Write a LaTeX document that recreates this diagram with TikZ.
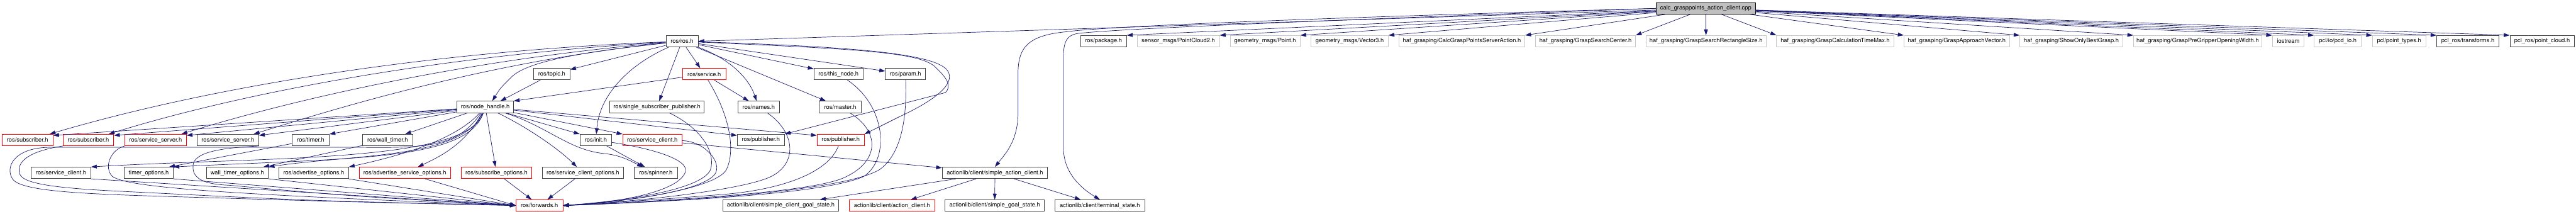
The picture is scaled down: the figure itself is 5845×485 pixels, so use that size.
\documentclass[tikz,border=0pt]{standalone}
\usepackage{fontspec}
\setmainfont{TeX Gyre Heros}
\usetikzlibrary{arrows.meta, calc}
\definecolor{edgeblue}{RGB}{25, 25, 112}
\definecolor{rootgray}{RGB}{191, 191, 191}
\definecolor{extgray}{RGB}{200, 200, 200}
\definecolor{truncred}{RGB}{255, 0, 0}
\definecolor{boxdark}{RGB}{64, 64, 64}
\tikzset{
    hdr/.style={draw=boxdark, fill=white, rectangle, line width=0.8pt, minimum height=19.5pt, inner xsep=5pt, inner ysep=0pt, font=\fontsize{10}{12}\selectfont},
    trunc/.style={hdr, draw=truncred},
    ext/.style={hdr, draw=extgray},
    srcfile/.style={hdr, draw=black, fill=rootgray},
    bw/.style={minimum width=#1*0.75pt},
    dep/.style={draw=edgeblue, line width=0.75pt, -{Triangle[length=10pt, width=6.5pt]}},
}

\begin{document}
\begin{tikzpicture}[x=0.75pt, y=-0.75pt]
\useasboundingbox (0,0) rectangle (5845,485);

% === Source file ===
\node[srcfile, bw=225] (root) at (3870.5,19) {calc\_grasppoints\_action\_client.cpp};

% === Direct includes ===
\node[hdr, bw=73] (ros) at (1547.5,93.5) {ros/ros.h};
\node[hdr, bw=104] (package) at (2504,93.5) {ros/package.h};
\node[ext, bw=187] (pcloud2) at (2673.5,93.5) {sensor\_msgs/PointCloud2.h};
\node[ext, bw=159] (point) at (2870.5,93.5) {geometry\_msgs/Point.h};
\node[ext, bw=175] (vector3) at (3062.5,93.5) {geometry\_msgs/Vector3.h};
\node[ext, bw=286] (calcsrv) at (3317,93.5) {haf\_grasping/CalcGraspPointsServerAction.h};
\node[ext, bw=227] (searchctr) at (3597.5,93.5) {haf\_grasping/GraspSearchCenter.h};
\node[ext, bw=272] (rectsize) at (3871,93.5) {haf\_grasping/GraspSearchRectangleSize.h};
\node[ext, bw=266] (timemax) at (4164,93.5) {haf\_grasping/GraspCalculationTimeMax.h};
\node[ext, bw=240] (approach) at (4440,93.5) {haf\_grasping/GraspApproachVector.h};
\node[ext, bw=234] (showbest) at (4700,93.5) {haf\_grasping/ShowOnlyBestGrasp.h};
\node[ext, bw=291] (pregrip) at (4986.5,93.5) {haf\_grasping/GraspPreGripperOpeningWidth.h};
\node[ext, bw=72] (iostream) at (5192,93.5) {iostream};
\node[ext, bw=107] (pcdio) at (5304.5,93.5) {pcl/io/pcd\_io.h};
\node[ext, bw=121] (ptypes) at (5443.5,93.5) {pcl/point\_types.h};
\node[hdr, bw=141] (transforms) at (5599.5,93.5) {pcl\_ros/transforms.h};
\node[hdr, bw=146] (pclcloud) at (5768,93.5) {pcl\_ros/point\_cloud.h};

% === roscpp headers ===
\node[hdr, bw=82] (topic) at (1252,168) {ros/topic.h};
\node[trunc, bw=98] (service) at (1598,168) {ros/service.h};
\node[hdr, bw=111] (thisnode) at (1902.5,168) {ros/this\_node.h};
\node[hdr, bw=91] (param) at (2054.5,168) {ros/param.h};

\node[hdr, bw=128] (nh) at (1101,242.5) {ros/node\_handle.h};
\node[hdr, bw=215] (ssp) at (1490.5,242.5) {ros/single\_subscriber\_publisher.h};
\node[hdr, bw=95] (names) at (1721.5,242.5) {ros/names.h};
\node[hdr, bw=95] (master) at (1906.5,242.5) {ros/master.h};

\node[trunc, bw=115] (suba) at (62.5,317.5) {ros/subscriber.h};
\node[trunc, bw=115] (subb) at (200.5,317.5) {ros/subscriber.h};
\node[trunc, bw=140] (ssra) at (353,317.5) {ros/service\_server.h};
\node[hdr, bw=140] (ssrb) at (517,317.5) {ros/service\_server.h};
\node[hdr, bw=84] (timer) at (705,317.5) {ros/timer.h};
\node[hdr, bw=115] (wtimer) at (879.5,317.5) {ros/wall\_timer.h};
\node[hdr, bw=72] (init) at (1352,317.5) {ros/init.h};
\node[trunc, bw=134] (sclia) at (1480,317.5) {ros/service\_client.h};
\node[hdr, bw=107] (puba) at (1726.5,317.5) {ros/publisher.h};
\node[trunc, bw=107] (pubb) at (1907.5,317.5) {ros/publisher.h};

\node[hdr, bw=135] (sclib) at (138.5,392) {ros/service\_client.h};
\node[hdr, bw=111] (topts) at (337.5,392) {timer\_options.h};
\node[hdr, bw=141] (wtopts) at (538.5,392) {wall\_timer\_options.h};
\node[hdr, bw=158] (aopts) at (712,392) {ros/advertise\_options.h};
\node[trunc, bw=207] (asopts) at (918.5,392) {ros/advertise\_service\_options.h};
\node[trunc, bw=161] (subopts) at (1126.5,392) {ros/subscribe\_options.h};
\node[hdr, bw=185] (scopts) at (1322.5,392) {ros/service\_client\_options.h};
\node[hdr, bw=98] (spinner) at (1488,392) {ros/spinner.h};
\node[hdr, bw=239] (sac) at (2257.5,392) {actionlib/client/simple\_action\_client.h};

\node[trunc, bw=106] (fwd) at (1224,466) {ros/forwards.h};
\node[hdr, bw=263] (scgs) at (1771.5,466) {actionlib/client/simple\_client\_goal\_state.h};
\node[trunc, bw=194] (aclient) at (2024,466) {actionlib/client/action\_client.h};
\node[hdr, bw=226] (sgs) at (2257,466) {actionlib/client/simple\_goal\_state.h};
\node[hdr, bw=203] (tstate) at (2495.5,466) {actionlib/client/terminal\_state.h};

% === Includes of the source file ===
\draw[dep] (root) -- (ros.east);
\draw[dep] (root) -- (package.north east);
\draw[dep] (root) -- (pcloud2.north east);
\draw[dep] (root) -- (point.north east);
\draw[dep] (root) -- (vector3.north east);
\draw[dep] (root) -- (calcsrv.north east);
\draw[dep] (root) -- (searchctr.north east);
\draw[dep] (root) -- (rectsize);
\draw[dep] (root) -- (timemax.north west);
\draw[dep] (root) -- (approach.north west);
\draw[dep] (root) -- (showbest.north west);
\draw[dep] (root) -- (pregrip.north west);
\draw[dep] (root) -- (iostream.north west);
\draw[dep] (root) -- (pcdio.north west);
\draw[dep] (root) -- (ptypes.north west);
\draw[dep] (root) -- (transforms.north west);
\draw[dep] (root) -- (pclcloud.north west);
\draw[dep] (root.west) .. controls (3000,40) and (2500,60) .. (2420,72) .. controls (2330,80) and (2312,110) .. (2310,160) -- (2310,255) .. controls (2310,320) and (2280,350) .. (sac.north);
\draw[dep] (root.west) .. controls (3000,46) and (2520,66) .. (2445,76) .. controls (2420,80) and (2413,95) .. (2413,130) -- (2413,335) .. controls (2413,390) and (2450,425) .. (tstate.north);

% === ros/ros.h ===
\draw[dep] (ros) .. controls (1000,115) and (500,190) .. ($(suba.north east)+(-8,0)$);
\draw[dep] (ros) .. controls (1000,125) and (550,210) .. ($(subb.north east)+(-12,0)$);
\draw[dep] (ros) .. controls (1050,135) and (650,230) .. ($(ssra.north east)+(-12,0)$);
\draw[dep] (ros) .. controls (1100,140) and (750,250) .. ($(ssrb.north east)+(-12,0)$);
\draw[dep] (ros) -- (topic);
\draw[dep] (ros) .. controls (1350,115) and (1200,135) .. (1160,175) .. controls (1135,200) .. ($(nh.north)+(16,0)$);
\draw[dep] (ros) -- (service);
\draw[dep] (ros) -- (ssp);
\draw[dep] (ros) .. controls (1420,150) and (1360,220) .. (init);
\draw[dep] (ros) .. controls (1660,135) and (1700,180) .. (names);
\draw[dep] (ros) -- (master);
\draw[dep] (ros) -- (thisnode);
\draw[dep] (ros) -- (param);
\draw[dep] (ros) .. controls (1900,110) and (2080,115) .. (2120,150) .. controls (2150,178) and (2160,195) .. (2145,210) -- (puba.north east);
\draw[dep] (ros) .. controls (1900,105) and (2120,118) .. (2150,160) .. controls (2170,190) and (2120,228) .. (2040,265) .. controls (2000,285) and (1980,295) .. (pubb.north east);

% === ros/node_handle.h ===
\draw[dep] (nh) -- ($(suba.north east)+(0,3)$);
\draw[dep] (nh) -- ($(subb.north east)+(0,3)$);
\draw[dep] (nh) -- ($(ssra.north east)+(0,3)$);
\draw[dep] (nh) -- ($(ssrb.north east)+(0,3)$);
\draw[dep] (nh) -- (timer.north east);
\draw[dep] (nh) -- (wtimer);
\draw[dep] (nh) -- (init.north west);
\draw[dep] (nh) -- (sclia.north west);
\draw[dep] (nh) -- ($(puba.north west)+(0,3)$);
\draw[dep] (nh) -- ($(pubb.north west)+(0,3)$);
\draw[dep] (nh) .. controls (1060,370) and (600,355) .. (sclib.north east);
\draw[dep] (nh) .. controls (1060,365) and (800,358) .. (topts.north east);
\draw[dep] (nh) .. controls (1050,360) and (800,350) .. (wtopts.north east);
\draw[dep] (nh) .. controls (1030,320) and (900,355) .. (aopts.north east);
\draw[dep] (nh) .. controls (1060,320) and (1010,350) .. (asopts);
\draw[dep] (nh) -- (subopts);
\draw[dep] (nh) .. controls (1200,290) and (1270,340) .. (scopts);
\draw[dep] (nh) .. controls (1240,285) and (1290,340) .. (1370,348) .. controls (1410,352) and (1430,365) .. (spinner);
\draw[dep] (nh) .. controls (1040,330) and (980,336) .. (820,334) -- (110,334) .. controls (30,336) and (12,380) .. (28,405) .. controls (45,435) and (200,440) .. (400,446) .. controls (800,458) .. (fwd.west);

% === other roscpp headers ===
\draw[dep] (topic) -- ($(nh.north east)+(-30,0)$);
\draw[dep] (service) -- (nh.north east);
\draw[dep] (service) -- (names);
\draw[dep] (service) .. controls (1655,260) and (1670,340) .. (1648,385) .. controls (1625,425) and (1450,455) .. (fwd.east);
\draw[dep] (ssp) .. controls (1590,290) and (1625,345) .. (1612,385) .. controls (1595,425) and (1450,453) .. (fwd.east);
\draw[dep] (names) .. controls (1805,300) and (1810,370) .. (1750,400) .. controls (1690,430) and (1450,457) .. (fwd.east);
\draw[dep] (master) .. controls (2000,300) and (1995,370) .. (1910,405) .. controls (1820,440) and (1450,458) .. (fwd.east);
\draw[dep] (thisnode) .. controls (2010,240) and (2020,360) .. (1960,400) .. controls (1860,445) and (1450,459) .. (fwd.east);
\draw[dep] (param) .. controls (2058,270) and (2045,350) .. (1995,385) .. controls (1900,440) and (1450,460) .. (fwd.east);
\draw[dep] (pubb) .. controls (1880,390) and (1780,428) .. (1650,440) .. controls (1500,452) .. (fwd.east);
\draw[dep] (sclia) .. controls (1600,320) and (1640,370) .. (1622,395) .. controls (1595,430) and (1450,455) .. (fwd.east);
\draw[dep] (sclia) -- (sac);
\draw[dep] (init) -- (spinner);
\draw[dep] (init) .. controls (1470,335) and (1565,360) .. (1555,390) .. controls (1540,435) and (1400,460) .. (fwd.east);
\draw[dep] (timer) -- ($(topts.north east)+(-10,0)$);
\draw[dep] (wtimer) -- ($(wtopts.north east)+(-12,0)$);

% === into ros/forwards.h from the left ===
\draw[dep] (subb.south west) .. controls (70,342) and (35,365) .. (45,395) .. controls (55,420) and (150,428) .. (300,435) .. controls (700,455) .. (fwd.west);
\draw[dep] (ssra.south west) .. controls (250,340) and (235,380) .. (255,400) .. controls (290,425) and (500,440) .. (fwd.west);
\draw[dep] (ssrb.south east) .. controls (480,336) and (435,350) .. (438,380) .. controls (438,408) and (470,418) .. (520,420) .. controls (800,445) .. (fwd.west);
\draw[dep] (sclib.south east) -- (fwd.west);
\draw[dep] (topts.south east) -- (fwd.west);
\draw[dep] (wtopts.south east) -- (fwd.west);
\draw[dep] (aopts.south east) -- (fwd.west);
\draw[dep] (asopts) -- (fwd.west);
\draw[dep] (subopts) -- (fwd);
\draw[dep] (scopts) -- (fwd);

% === actionlib ===
\draw[dep] (sac) -- (scgs);
\draw[dep] (sac) -- (aclient);
\draw[dep] (sac) -- (sgs);
\draw[dep] (sac) -- (tstate);
\end{tikzpicture}
\end{document}
